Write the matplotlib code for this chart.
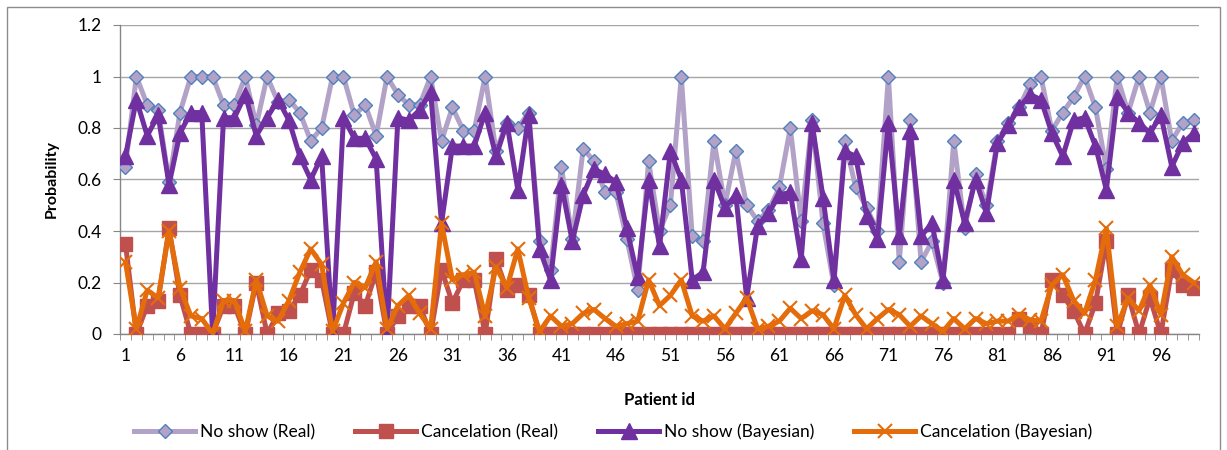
import matplotlib.pyplot as plt
import numpy as np
from matplotlib.patches import Rectangle

plt.rcParams['font.family'] = ['Lato', 'DejaVu Sans']

patients = np.arange(1, 100)

noshow_real = [
    0.65, 1.00, 0.89, 0.87, 0.59, 0.86, 1.00, 1.00, 1.00, 0.89,
    0.89, 1.00, 0.81, 1.00, 0.90, 0.91, 0.86, 0.75, 0.80, 1.00,
    1.00, 0.85, 0.89, 0.77, 1.00, 0.93, 0.89, 0.89, 1.00, 0.75,
    0.88, 0.79, 0.79, 1.00, 0.71, 0.82, 0.80, 0.86, 0.36, 0.25,
    0.65, 0.37, 0.72, 0.67, 0.55, 0.55, 0.37, 0.17, 0.67, 0.40,
    0.50, 1.00, 0.38, 0.36, 0.75, 0.50, 0.71, 0.50, 0.44, 0.48,
    0.57, 0.80, 0.44, 0.83, 0.43, 0.19, 0.75, 0.57, 0.49, 0.40,
    1.00, 0.28, 0.83, 0.28, 0.36, 0.20, 0.75, 0.41, 0.62, 0.50,
    0.75, 0.82, 0.88, 0.97, 1.00, 0.79, 0.86, 0.92, 1.00, 0.88,
    0.64, 1.00, 0.86, 1.00, 0.86, 1.00, 0.75, 0.82, 0.83,
]

cancel_real = [
    0.35, 0.00, 0.11, 0.13, 0.41, 0.15, 0.00, 0.00, 0.00, 0.11,
    0.11, 0.00, 0.20, 0.00, 0.08, 0.09, 0.15, 0.25, 0.21, 0.00,
    0.00, 0.16, 0.11, 0.24, 0.00, 0.07, 0.11, 0.11, 0.00, 0.25,
    0.12, 0.21, 0.21, 0.00, 0.29, 0.17, 0.19, 0.15, 0.00, 0.00,
    0.00, 0.00, 0.00, 0.00, 0.00, 0.00, 0.00, 0.00, 0.00, 0.00,
    0.00, 0.00, 0.00, 0.00, 0.00, 0.00, 0.00, 0.00, 0.00, 0.00,
    0.00, 0.00, 0.00, 0.00, 0.00, 0.00, 0.00, 0.00, 0.00, 0.00,
    0.00, 0.00, 0.00, 0.00, 0.00, 0.00, 0.00, 0.00, 0.00, 0.00,
    0.00, 0.00, 0.06, 0.03, 0.00, 0.21, 0.15, 0.09, 0.00, 0.12,
    0.36, 0.00, 0.15, 0.00, 0.14, 0.00, 0.25, 0.19, 0.18,
]

noshow_bayes = [
    0.69, 0.91, 0.77, 0.85, 0.58, 0.78, 0.86, 0.86, 0.00, 0.84,
    0.84, 0.93, 0.77, 0.84, 0.91, 0.83, 0.69, 0.60, 0.69, 0.00,
    0.84, 0.76, 0.76, 0.68, 0.00, 0.84, 0.83, 0.87, 0.94, 0.43,
    0.73, 0.73, 0.73, 0.86, 0.69, 0.82, 0.56, 0.85, 0.33, 0.21,
    0.58, 0.36, 0.54, 0.64, 0.62, 0.59, 0.41, 0.22, 0.60, 0.34,
    0.71, 0.60, 0.21, 0.24, 0.60, 0.49, 0.54, 0.14, 0.42, 0.47,
    0.54, 0.55, 0.29, 0.82, 0.53, 0.21, 0.71, 0.69, 0.46, 0.37,
    0.82, 0.38, 0.79, 0.38, 0.43, 0.21, 0.60, 0.43, 0.60, 0.47,
    0.74, 0.81, 0.88, 0.93, 0.91, 0.78, 0.69, 0.83, 0.84, 0.73,
    0.56, 0.92, 0.86, 0.82, 0.78, 0.85, 0.65, 0.74, 0.78,
]

cancel_bayes = [
    0.28, 0.02, 0.17, 0.14, 0.40, 0.18, 0.07, 0.06, 0.00, 0.13,
    0.13, 0.01, 0.21, 0.07, 0.05, 0.13, 0.24, 0.33, 0.27, 0.01,
    0.12, 0.20, 0.18, 0.28, 0.02, 0.11, 0.15, 0.08, 0.02, 0.43,
    0.21, 0.23, 0.24, 0.07, 0.26, 0.18, 0.33, 0.14, 0.01, 0.07,
    0.03, 0.04, 0.08, 0.095, 0.06, 0.03, 0.04, 0.05, 0.21, 0.11,
    0.15, 0.21, 0.07, 0.05, 0.07, 0.02, 0.08, 0.14, 0.02, 0.03,
    0.05, 0.10, 0.06, 0.09, 0.075, 0.02, 0.15, 0.075, 0.02, 0.06,
    0.095, 0.075, 0.03, 0.07, 0.04, 0.01, 0.06, 0.02, 0.06, 0.04,
    0.05, 0.05, 0.075, 0.055, 0.05, 0.19, 0.23, 0.13, 0.08, 0.21,
    0.41, 0.03, 0.14, 0.09, 0.19, 0.075, 0.30, 0.23, 0.20,
]

labels = ['No show (Real)', 'Cancelation (Real)',
          'No show (Bayesian)', 'Cancelation (Bayesian)']

fig = plt.figure(figsize=(12.27, 4.5), dpi=100)
ax = fig.add_axes([120 / 1227, 1 - 334 / 450, 1079 / 1227, 309 / 450])

# outer chart frame
fig.patches.append(Rectangle((7 / 1227, -0.05), 1213 / 1227, 1 - 7 / 450 + 0.05,
                             transform=fig.transFigure, fill=False,
                             edgecolor='#8c8c8c', linewidth=1))

lw = 3.6
ax.plot(patients, noshow_real, color='#B3A2C7', lw=lw, marker='D', ms=7.5,
        mfc='#B3A2C7', mec='#4F81BD', mew=1, label=labels[0], zorder=3)
ax.plot(patients, cancel_real, color='#C0504D', lw=lw, marker='s', ms=9.5,
        mfc='#C0504D', mec='#C0504D', label=labels[1], zorder=4)
ax.plot(patients, noshow_bayes, color='#7030A0', lw=lw, marker='^', ms=11,
        mfc='#7030A0', mec='#7030A0', label=labels[2], zorder=5)
ax.plot(patients, cancel_bayes, color='#E46C0A', lw=lw, marker='x', ms=10,
        mec='#E46C0A', mew=1.5, label=labels[3], zorder=6)

ax.set_xlim(0.5, 99.5)
ax.set_ylim(0, 1.2)

ax.set_yticks(np.arange(0, 1.21, 0.2))
ax.set_yticklabels(['0', '0.2', '0.4', '0.6', '0.8', '1', '1.2'], fontsize=12.5)
ax.set_xticks(np.arange(1, 100, 5))
ax.set_xticklabels([str(i) for i in range(1, 100, 5)], fontsize=12.5)
ax.set_xticks(np.arange(0.5, 100, 1), minor=True)
ax.tick_params(axis='x', which='major', length=0, pad=10)
ax.tick_params(axis='x', which='minor', length=4, color='#868686', direction='out')
ax.tick_params(axis='y', length=5, color='#868686', direction='out', pad=8)

ax.grid(axis='y', color='#a6a6a6', linewidth=1)
ax.set_axisbelow(True)
for side in ['top', 'right']:
    ax.spines[side].set_visible(False)
for side in ['left', 'bottom']:
    ax.spines[side].set_color('#868686')
    ax.spines[side].set_linewidth(1)

ax.set_xlabel('Patient id', fontsize=12, fontweight='bold', labelpad=20)
ax.set_ylabel('Probability', fontsize=11.5, fontweight='bold', labelpad=14)

fig.legend(loc='center', bbox_to_anchor=(0.5, 1 - 432 / 450), ncol=4,
           frameon=False, fontsize=12.5, handlelength=3.5, columnspacing=2.3,
           handletextpad=0.3)

fig.savefig('out.png', dpi=100)
